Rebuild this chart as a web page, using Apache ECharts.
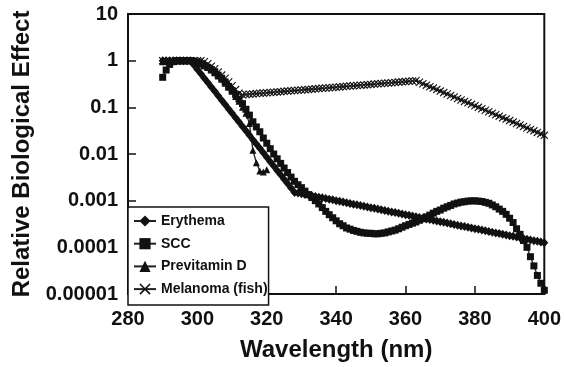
<!DOCTYPE html>
<html>
<head>
<meta charset="utf-8">
<script src="https://cdn.jsdelivr.net/npm/echarts@6/dist/echarts.min.js"></script>
<style>
  html, body { margin: 0; padding: 0; background: #fff; }
  #chart { width: 564px; height: 367px; }
</style>
</head>
<body>
<div id="chart"></div>
<script>
// wavelength of the first point of each series (nm), one point per nm
const erythemaStart = 290
const sccStart = 290
const previtaminStart = 290
const melanomaStart = 290

const erythema = [
  1, 1, 1, 1, 1, 1, 1, 1, 1,
  0.805, 0.649, 0.522, 0.42, 0.339, 0.273, 0.22, 0.177, 0.142, 0.115,
  0.0923, 0.0743, 0.0598, 0.0482, 0.0388, 0.0313, 0.0252, 0.0203, 0.0163, 0.0132,
  0.0106, 0.00851, 0.00685, 0.00552, 0.00445, 0.00358, 0.00288, 0.00232, 0.00187, 0.0015,
  0.00146, 0.00141, 0.00136, 0.00132, 0.00127, 0.00123, 0.00119, 0.00115, 0.00111, 0.00107, 0.00104, 0.001,
  0.000966, 0.000933, 0.000902, 0.000871, 0.000841, 0.000813, 0.000785, 0.000759, 0.000733, 0.000708,
  0.000684, 0.000661, 0.000638, 0.000617, 0.000596, 0.000575, 0.000556, 0.000537, 0.000519, 0.000501,
  0.000484, 0.000468, 0.000452, 0.000437, 0.000422, 0.000407, 0.000394, 0.00038, 0.000367, 0.000355,
  0.000343, 0.000331, 0.00032, 0.000309, 0.000299, 0.000288, 0.000279, 0.000269, 0.00026, 0.000251,
  0.000243, 0.000234, 0.000226, 0.000219, 0.000211, 0.000204, 0.000197, 0.00019, 0.000184, 0.000178,
  0.000172, 0.000166, 0.00016, 0.000155, 0.000149, 0.000144, 0.000139, 0.000135, 0.00013, 0.000126
]

const scc = [
  0.44, 0.63, 0.83, 0.95, 1, 1, 1, 1, 1, 0.98,
  0.92, 0.85, 0.78, 0.72, 0.65, 0.58, 0.49, 0.42, 0.35, 0.28,
  0.23, 0.19, 0.15, 0.12, 0.091, 0.068, 0.049, 0.038, 0.030, 0.022,
  0.017, 0.013, 0.010, 0.0079, 0.0063, 0.005, 0.004, 0.0032, 0.0026, 0.0022,
  0.0019, 0.0016, 0.00135, 0.00117, 0.001, 0.00085, 0.00071, 0.00059, 0.0005, 0.00043,
  0.00037, 0.00032, 0.00029, 0.00026, 0.000245, 0.00023, 0.00022, 0.00021, 0.000204, 0.0002,
  0.0002, 0.000195, 0.000195, 0.0002, 0.000204, 0.000214, 0.000224, 0.000234, 0.00025, 0.00027,
  0.00029, 0.00031, 0.00033, 0.00035, 0.00038, 0.00041, 0.00045, 0.00049, 0.00054, 0.00059,
  0.00063, 0.00069, 0.00074, 0.00079, 0.00085, 0.00089, 0.00093, 0.00095, 0.00098, 0.00099,
  0.00099, 0.00098, 0.00096, 0.00092, 0.00088, 0.00081, 0.00074, 0.00066, 0.00059, 0.00051,
  0.00042, 0.00034, 0.00025, 0.00019, 0.00014, 0.0001, 0.000063, 0.00004, 0.000025, 0.000017,
  0.000012
]

const previtaminD = [
  0.95, 0.97, 1, 1, 1, 1, 1, 1, 1, 0.97,
  0.92, 0.85, 0.78, 0.71, 0.63, 0.55, 0.47, 0.4, 0.33, 0.27,
  0.22, 0.17, 0.135, 0.1, 0.075, 0.045, 0.012, 0.0065, 0.0043, 0.0041,
  0.0046
]

const melanomaFish = [
  1, 1, 1, 1, 1, 1, 1, 1, 1, 1, 1, 1, 0.95,
  0.86, 0.76, 0.67, 0.57, 0.49, 0.42, 0.35, 0.29, 0.24, 0.2,
  0.186, 0.189, 0.191, 0.194, 0.197, 0.2, 0.202, 0.205, 0.208, 0.211,
  0.214, 0.217, 0.22, 0.223, 0.226, 0.229, 0.232, 0.236, 0.239, 0.242,
  0.245, 0.249, 0.252, 0.256, 0.259, 0.263, 0.267, 0.27, 0.274, 0.278,
  0.282, 0.286, 0.29, 0.294, 0.298, 0.302, 0.306, 0.31, 0.315, 0.319,
  0.324, 0.328, 0.333, 0.337, 0.342, 0.347, 0.352, 0.356, 0.361, 0.366,
  0.372,
  0.345, 0.321, 0.299, 0.277, 0.258, 0.24, 0.223, 0.207, 0.193, 0.179,
  0.167, 0.155, 0.144, 0.134, 0.125, 0.116, 0.108, 0.1, 0.093, 0.0865,
  0.0805, 0.0748, 0.0695, 0.0647, 0.0601, 0.056, 0.052, 0.0483, 0.045, 0.0418,
  0.0389, 0.0361, 0.0336, 0.0313, 0.029, 0.027, 0.0251
]

const seriesNames = ['Erythema', 'SCC', 'Previtamin D', 'Melanoma (fish)']
const yTickLabels = ['0.00001', '0.0001', '0.001', '0.01', '0.1', '1', '10']

const FONT = 'Liberation Sans, Arial, sans-serif'
const INK = '#111'

function pairs(start, values) {
  return values.map((v, i) => [start + i, v])
}

const crossPath = 'path://M0,1L1,0L5,4L9,0L10,1L6,5L10,9L9,10L5,6L1,10L0,9L4,5Z'

function lineSeries(name, start, values, symbol, size, z) {
  return {
    name: name,
    type: 'line',
    data: pairs(start, values),
    symbol: symbol,
    symbolSize: size,
    showAllSymbol: true,
    lineStyle: { color: '#222', width: 1.3 },
    itemStyle: { color: INK },
    z: z
  }
}

const chart = echarts.init(document.getElementById('chart'))
chart.setOption({
  animation: false,
  backgroundColor: '#fff',
  grid: {
    left: 128,
    right: 17,
    top: 14,
    bottom: 62,
    show: true,
    borderColor: INK,
    borderWidth: 2
  },
  legend: {
    data: seriesNames,
    orient: 'vertical',
    left: 128,
    top: 207,
    padding: [7, 1, 9, 5],
    itemWidth: 22,
    itemHeight: 14,
    itemGap: 8.7,
    backgroundColor: '#fff',
    borderColor: INK,
    borderWidth: 1.5,
    textStyle: { fontFamily: FONT, fontSize: 14, fontWeight: 'bold', color: INK },
    z: 10
  },
  xAxis: {
    type: 'value',
    min: 280,
    max: 400,
    interval: 20,
    name: 'Wavelength (nm)',
    nameLocation: 'middle',
    nameGap: 44,
    nameTextStyle: { fontFamily: FONT, fontSize: 24, fontWeight: 'bold', color: INK },
    axisLine: { lineStyle: { color: INK, width: 2 } },
    axisTick: { inside: true, length: 8, lineStyle: { color: INK, width: 1.5 } },
    axisLabel: { fontFamily: FONT, fontSize: 20, fontWeight: 'bold', color: INK, margin: 15 },
    splitLine: { show: false }
  },
  yAxis: {
    type: 'log',
    logBase: 10,
    min: 0.00001,
    max: 10,
    name: 'Relative Biological Effect',
    nameLocation: 'middle',
    nameGap: 91,
    nameTextStyle: { fontFamily: FONT, fontSize: 24, fontWeight: 'bold', color: INK },
    axisLine: { lineStyle: { color: INK, width: 2 } },
    axisTick: { inside: true, length: 8, lineStyle: { color: INK, width: 1.5 } },
    axisLabel: {
      fontFamily: FONT, fontSize: 20, fontWeight: 'bold', color: INK, margin: 10,
      padding: [0, 0, 12, 0],
      formatter: v => yTickLabels[Math.round(Math.log10(v)) + 5]
    },
    splitLine: { show: false }
  },
  series: [
    lineSeries('Erythema', erythemaStart, erythema, 'diamond', [8, 9], 4),
    lineSeries('SCC', sccStart, scc, 'rect', 7, 3),
    lineSeries('Previtamin D', previtaminStart, previtaminD, 'triangle', 7, 2),
    lineSeries('Melanoma (fish)', melanomaStart, melanomaFish, crossPath, 8, 2)
  ]
})
</script>
</body>
</html>
